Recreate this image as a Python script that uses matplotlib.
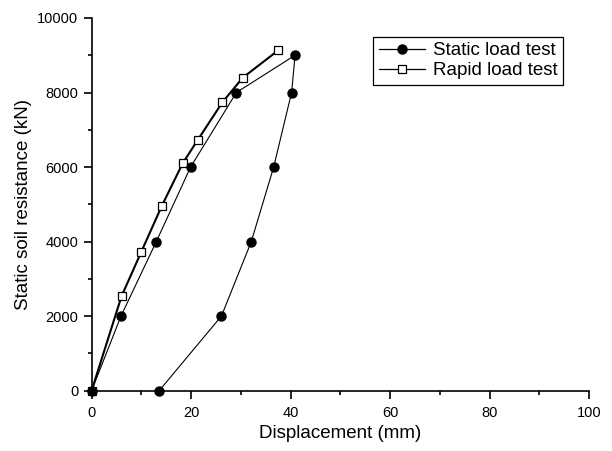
import matplotlib
matplotlib.use("Agg")
import matplotlib.pyplot as plt
from matplotlib.ticker import MultipleLocator

plt.rcParams['font.family'] = ['Liberation Sans', 'DejaVu Sans']

# Static load test (loading then unloading)
static_disp = [0, 5.9, 13.0, 19.9, 29.1, 40.9, 40.2, 36.6, 32.1, 26.1, 13.6]
static_load = [0, 2000, 4000, 6000, 8000, 9000, 8000, 6000, 4000, 2000, 0]

# Rapid load test
rapid_disp = [0, 6.0, 10.0, 14.1, 18.3, 21.3, 26.3, 30.4, 37.5]
rapid_load = [0, 2530, 3730, 4955, 6100, 6720, 7740, 8400, 9130]

x_ticks = [0, 20, 40, 60, 80, 100]
y_ticks = [0, 2000, 4000, 6000, 8000, 10000]

fig = plt.figure(figsize=(6.12, 4.51), dpi=100)
ax = fig.add_axes([0.1498, 0.1341, 0.8126, 0.826])

ax.plot(rapid_disp, rapid_load, '-', color='black', lw=1.5,
        marker='s', markersize=5.2, markerfacecolor='white', markeredgecolor='black',
        markeredgewidth=0.9, label='Rapid load test', zorder=3, clip_on=False)
ax.plot(static_disp, static_load, '-', color='black', lw=0.8,
        marker='o', markersize=6.5, markerfacecolor='black', markeredgecolor='black',
        label='Static load test', zorder=4, clip_on=False)

ax.set_xlim(0, 100)
ax.set_ylim(0, 10000)
ax.set_xticks(x_ticks)
ax.set_yticks(y_ticks)
ax.xaxis.set_minor_locator(MultipleLocator(10))
ax.yaxis.set_minor_locator(MultipleLocator(1000))
ax.spines['top'].set_visible(False)
ax.spines['right'].set_visible(False)
for s in ['left', 'bottom']:
    ax.spines[s].set_linewidth(1.2)
ax.tick_params(which='major', direction='out', length=5.5, width=1.2, labelsize=10.5)
ax.tick_params(which='minor', direction='out', length=3, width=1.2)
ax.tick_params(axis='x', which='major', pad=5.5)
ax.tick_params(axis='y', which='major', pad=4)
ax.set_xlabel('Displacement (mm)', fontsize=13.5, labelpad=4)
ax.set_ylabel('Static soil resistance (kN)', fontsize=13.5, labelpad=4)

handles, labels = ax.get_legend_handles_labels()
leg = ax.legend(handles[::-1], labels[::-1], loc='upper right',
                bbox_to_anchor=(0.948, 0.950), borderaxespad=0,
                fontsize=13.5, frameon=True,
                fancybox=False, edgecolor='black', framealpha=1,
                handlelength=2.5, handletextpad=0.4, borderpad=0.3,
                labelspacing=0.15)
leg.get_frame().set_linewidth(0.9)
for lh in leg.get_lines():
    lh.set_linewidth(0.9)

fig.savefig('out.png', dpi=100)
